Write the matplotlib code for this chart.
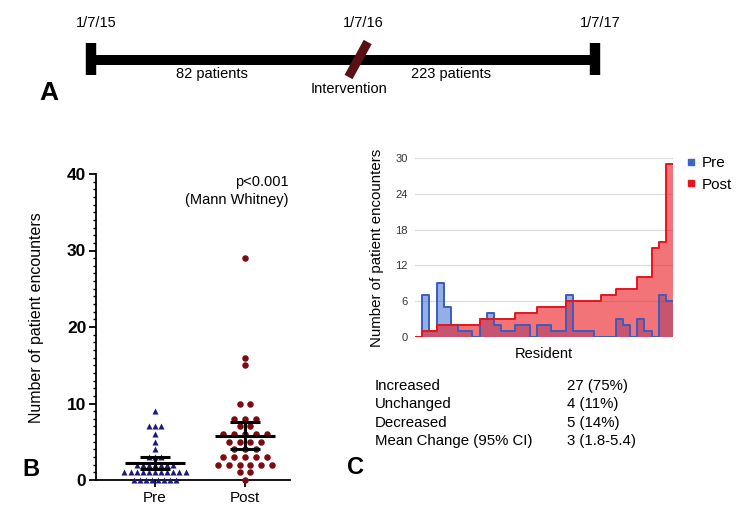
import numpy as np
import matplotlib
matplotlib.use("Agg")
import matplotlib.pyplot as plt
from matplotlib.lines import Line2D

plt.rcParams['font.family'] = ['Liberation Sans', 'DejaVu Sans']

# ---- data ----
# timeline (panel A), positions in years from start
timeline_dates = ["1/7/15", "1/7/16", "1/7/17"]
timeline_pos = [0.0, 1.06, 2.0]
period_labels = ["82 patients", "223 patients"]

# encounters per resident (panel C order: sorted by post)
pre_counts = [0, 7, 1, 9, 5, 2, 1, 1, 0, 3, 4, 2, 1, 1, 2, 2, 0, 2,
              2, 1, 1, 7, 1, 1, 1, 0, 0, 0, 3, 2, 0, 3, 1, 0, 7, 6]
post_counts = [0, 1, 1, 2, 2, 2, 2, 2, 2, 3, 3, 3, 3, 3, 4, 4, 4, 5,
               5, 5, 5, 6, 6, 6, 6, 6, 7, 7, 8, 8, 8, 10, 10, 15, 16, 29]

group_names = ["Pre", "Post"]
summary_rows = ["Increased", "Unchanged", "Decreased", "Mean Change (95% CI)"]
summary_vals = ["27 (75%)", "4 (11%)", "5 (14%)", "3 (1.8-5.4)"]

T_CRIT = 2.03  # t(0.975, df=35)

W, H = 751, 512
fig = plt.figure(figsize=(W / 100, H / 100), dpi=100)


def fx(px):
    return px / W


def fy(py):
    return 1 - py / H


# ---- panel A: timeline ----
axa = fig.add_axes([0, fy(110), 1, 110 / H])
axa.set_xlim(-91 / 252, 2 + (W - 595) / 252)
axa.set_ylim(110, 0)
axa.axis("off")
t0, t1, t2 = timeline_pos
axa.plot([t0, t2], [60, 60], color="black", lw=7.2, solid_capstyle="butt")
for t in (t0, t2):
    axa.plot([t, t], [43, 75], color="black", lw=7.5, solid_capstyle="butt")
axa.plot([t1 + 0.038, t1 - 0.038], [42, 77], color="#5a1012", lw=6.5,
         solid_capstyle="butt")
for t, lab in zip(timeline_pos, timeline_dates):
    axa.text(t + 0.02, 23, lab, ha="center", va="center", fontsize=10.5)
axa.text((t0 + t1) / 2 - 0.05, 74, period_labels[0], ha="center", va="center",
         fontsize=10.5)
axa.text((t1 + t2) / 2 - 0.1, 74, period_labels[1], ha="center", va="center",
         fontsize=10.5)
axa.text(t1 - 0.035, 89, "Intervention", ha="center", va="center", fontsize=10.5)
fig.text(fx(39), fy(93), "A", fontsize=19, fontweight="bold", va="center")

# ---- panel B: dot plot ----
axb = fig.add_axes([fx(96), fy(480), fx(290) - fx(96), fy(174) - fy(480)])
axb.set_xlim(1 - 59 / 90, 2 + 45 / 90)
axb.set_ylim(0, 40)


def swarm(values, center, step):
    values = np.asarray(values)
    xs = np.empty(len(values))
    for v in np.unique(values):
        idx = np.where(values == v)[0]
        n = len(idx)
        xs[idx] = center + (np.arange(n) - (n - 1) / 2) * step
    return xs


pre = np.array(pre_counts)
post = np.array(post_counts)
axb.scatter(swarm(pre, 1, 0.068), pre, marker="^", s=19, color="#1b1a7c",
            linewidths=0, zorder=3, clip_on=False)
axb.scatter(swarm(post, 2, 0.122), post, marker="o", s=22, color="#7a0c12",
            linewidths=0, zorder=3, clip_on=False)
for c, vals in ((1, pre), (2, post)):
    m = vals.mean()
    half = T_CRIT * vals.std(ddof=1) / np.sqrt(len(vals))
    axb.hlines(m, c - 0.33, c + 0.33, color="black", lw=2.2, zorder=4)
    axb.hlines([m - half, m + half], c - 0.17, c + 0.17, color="black", lw=2.2,
               zorder=4)
    axb.vlines(c, m - half, m + half, color="black", lw=2.2, zorder=4)

axb.spines[["top", "right"]].set_visible(False)
axb.spines["left"].set_linewidth(1.3)
axb.spines["bottom"].set_linewidth(1.3)
axb.set_yticks(np.arange(0, 41, 10))
axb.set_yticks(np.arange(0, 41, 1), minor=True)
axb.tick_params(axis="y", which="major", length=5, width=1.3, labelsize=12.5,
                pad=2)
axb.tick_params(axis="y", which="minor", length=2.5, width=1)
for lab in axb.get_yticklabels():
    lab.set_fontweight("bold")
axb.set_xticks([1, 2])
axb.set_xticklabels(group_names, fontsize=11)
axb.tick_params(axis="x", length=5, width=1.3, pad=3)
axb.set_ylabel("Number of patient encounters", fontsize=11.5, labelpad=9)
axb.yaxis.set_label_coords(-0.27, 0.53)
axb.text(2.48, 39.0, "p<0.001", ha="right", va="center", fontsize=10.5)
axb.text(2.48, 36.6, "(Mann Whitney)", ha="right", va="center", fontsize=10.5)
fig.text(fx(22), fy(470), "B", fontsize=17, fontweight="bold", va="center")

# ---- panel C: step area chart ----
axc = fig.add_axes([fx(415), fy(337), fx(673) - fx(415), fy(158) - fy(337)])
n = len(post_counts)
xs = np.arange(n + 1)
pre_ext = np.append(pre, pre[-1])
post_ext = np.append(post, post[-1])
axc.fill_between(xs, pre_ext, step="post", color="#3b6fd0", alpha=0.55,
                 lw=0, zorder=2)
axc.fill_between(xs, post_ext, step="post", color="#ea1820", alpha=0.6,
                 lw=0, zorder=3)
axc.step(xs, pre_ext, where="post", color="#3a5cc0", lw=1.4, zorder=4)
axc.step(xs, post_ext, where="post", color="#e8141c", lw=1.4, zorder=5)
axc.set_xlim(0, n)
axc.set_ylim(0, 30)
axc.set_yticks(np.arange(0, 31, 6))
axc.set_xticks([])
axc.yaxis.grid(True, color="#dcdcdc", lw=0.9)
axc.set_axisbelow(True)
for s in axc.spines.values():
    s.set_visible(False)
axc.tick_params(axis="y", length=0, labelsize=8, labelcolor="#333333", pad=5)
axc.set_ylabel("Number of patient encounters", fontsize=10.8, labelpad=8)
axc.set_xlabel("Resident", fontsize=10.5, labelpad=7)

handles = [Line2D([], [], marker="s", ls="", color="#3a66c4", markersize=5),
           Line2D([], [], marker="s", ls="", color="#e8141c", markersize=5)]
fig.legend(handles, group_names, loc="upper left",
           bbox_to_anchor=(fx(680), fy(150)), frameon=False, fontsize=11,
           handlelength=0.6, handletextpad=0.4, labelspacing=0.5,
           borderaxespad=0)

for i, (r, v) in enumerate(zip(summary_rows, summary_vals)):
    fig.text(fx(375), fy(386 + i * 18.3), r, fontsize=10.8, va="center")
    fig.text(fx(567), fy(386 + i * 18.3), v, fontsize=10.8, va="center")
fig.text(fx(347), fy(467), "C", fontsize=17, fontweight="bold", va="center")

fig.savefig("out.png", dpi=100)
